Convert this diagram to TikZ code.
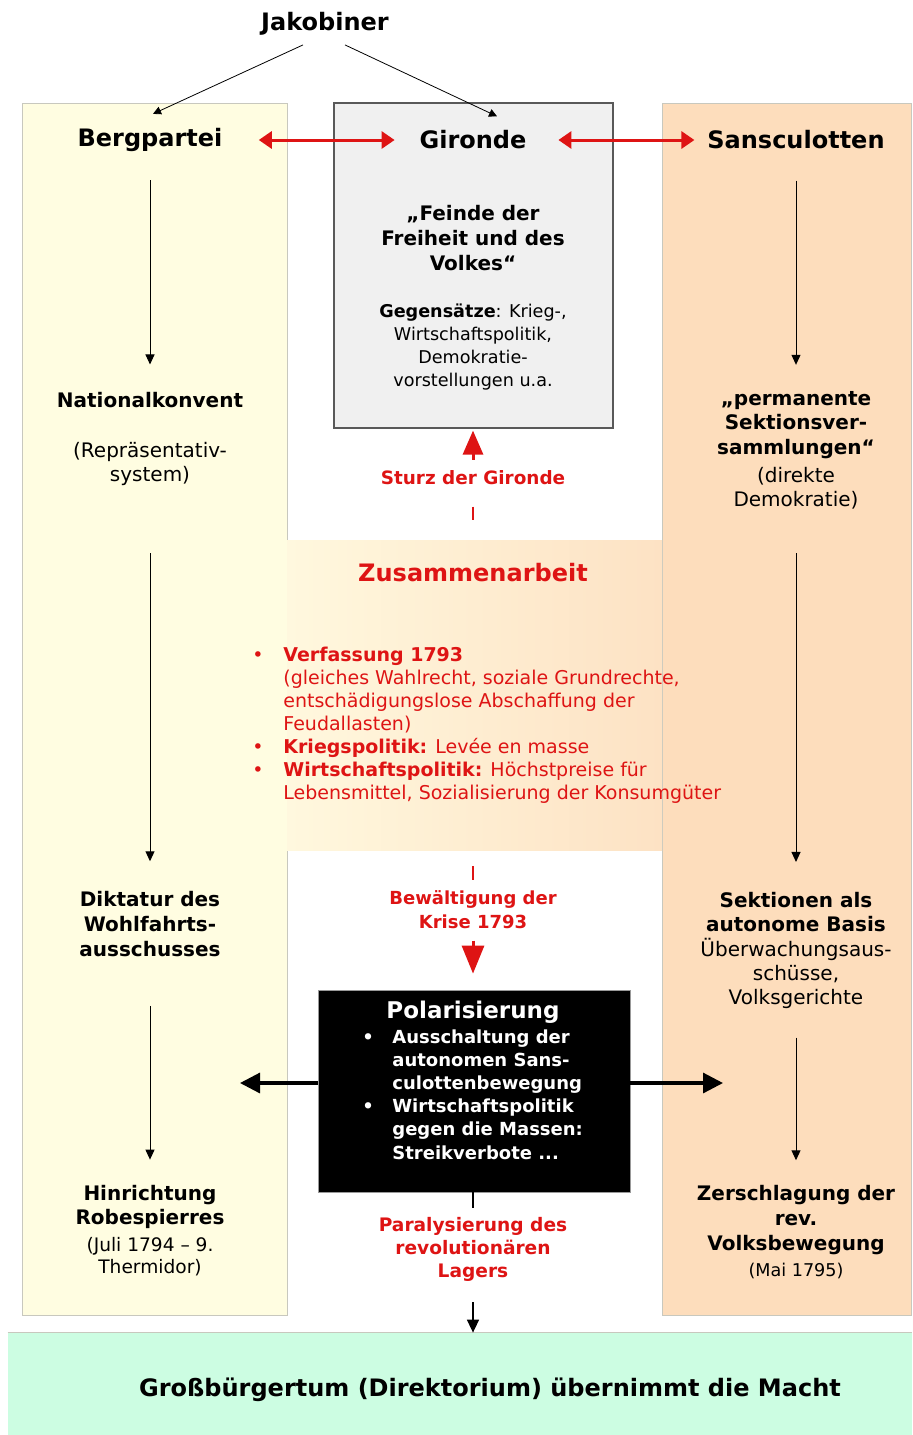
\documentclass[tikz,border=0pt]{standalone}
\usepackage{fontspec}
\setmainfont{DejaVu Sans}
\usepackage{tikz}
\usetikzlibrary{arrows.meta,positioning,calc}

\definecolor{bergfill}{RGB}{255,253,225}
\definecolor{sansfill}{RGB}{253,221,188}
\definecolor{bandleft}{RGB}{255,248,222}
\definecolor{bandright}{RGB}{253,226,196}
\definecolor{girfill}{RGB}{240,240,240}
\definecolor{machtfill}{RGB}{204,253,226}
\definecolor{revred}{RGB}{222,20,20}
\definecolor{colframe}{RGB}{200,200,190}

\begin{document}
\begin{tikzpicture}[
  x=0.5pt, y=-0.5pt,
  txt/.style={align=center, inner sep=0pt},
  partytxt/.style={txt, font=\fontsize{12}{14}\selectfont\bfseries},
  colhead/.style={txt, font=\fontsize{10}{12.3}\selectfont\bfseries},
  colbody/.style={txt, font=\fontsize{10}{12}\selectfont},
  colnote/.style={txt, font=\fontsize{9.3}{11}\selectfont},
  redlabel/.style={txt, text=revred, font=\fontsize{9.2}{11.8}\selectfont\bfseries},
  listtxt/.style={align=left, inner sep=0pt, text=revred, font=\fontsize{9.5}{11.5}\selectfont},
  polartxt/.style={align=left, inner sep=0pt, text=white, font=\fontsize{9}{11.6}\selectfont\bfseries},
  arrow/.style={-{Triangle[length=5pt,width=4.5pt]}, line width=0.5pt},
  jakarrow/.style={-{Triangle[length=4pt,width=4pt]}, line width=0.4pt},
  redarrow/.style={{Triangle[length=6.5pt,width=8.5pt]}-{Triangle[length=6.5pt,width=8.5pt]}, line width=1.5pt, revred},
  redbig/.style={-{Triangle[length=12pt,width=10pt]}, line width=1.5pt, revred},
  redtick/.style={line width=1.3pt, revred},
  blkarrow/.style={-{Triangle[length=10pt,width=10pt]}, line width=1.6pt},
  downarrow/.style={-{Triangle[length=6.5pt,width=6pt]}, line width=0.8pt}
]

% canvas
\fill[white] (0,0) rectangle (912,1435);
\useasboundingbox (0,0) rectangle (912,1435);

% columns and boxes
\draw[colframe, fill=bergfill] (22,103) rectangle (287,1315);
\draw[colframe, fill=sansfill] (662,103) rectangle (911,1315);
\node[inner sep=0pt, minimum width=187.5pt, minimum height=155pt, left color=bandleft, right color=bandright] (band) at (474.5,695) {};
\node[draw=black!65, fill=girfill, inner sep=0pt, minimum width=139.5pt, minimum height=162.5pt, line width=0.6pt] (girbox) at (473.5,265.5) {};
\node[draw=black!40, fill=black, inner sep=0pt, minimum width=156pt, minimum height=101pt] (polar) at (474,1091) {};
\node[fill=machtfill, inner sep=0pt, minimum width=452pt, minimum height=51pt] (machtbox) at (460,1384) {};
\draw[colframe, line width=0.8pt] (machtbox.north west) -- (machtbox.north east);

% parties
\node[partytxt] (jakobiner) at (325,24) {Jakobiner};
\node[partytxt] (berg) at (150,140) {Bergpartei};
\node[partytxt] (gironde) at (473,140) {Gironde};
\node[partytxt] (sans) at (796,140) {Sansculotten};

\draw[jakarrow] ($(jakobiner.south)+(-22,9)$) -- ($(berg.north)+(3,-14)$);
\draw[jakarrow] ($(jakobiner.south)+(20,9)$) -- ($(gironde.north)+(24,-14)$);
\draw[redarrow, shorten <=18pt, shorten >=12.3pt] (berg) -- (gironde);
\draw[redarrow, shorten <=15.8pt, shorten >=6.3pt] (gironde) -- (sans);

% Gironde
\node[txt, font=\fontsize{10}{12.5}\selectfont\bfseries] (feinde) at (473,238) {„Feinde der\\Freiheit und des\\Volkes“};
\node[txt, font=\fontsize{8.8}{11.5}\selectfont] (gegensatz) at (473,347) {\textbf{Gegensätze}: Krieg-,\\Wirtschaftspolitik,\\Demokratie-\\vorstellungen u.a.};

% Bergpartei column
\node[colhead] (natkonv) at (150,400) {Nationalkonvent};
\node[colbody] (natnote) at (150,464) {(Repräsentativ-\\system)};
\node[colhead] (diktatur) at (150,924) {Diktatur des\\Wohlfahrts-\\ausschusses};
\node[colhead] (hinr) at (150,1207) {Hinrichtung\\Robespierres};
\node[colnote] (hinrnote) at (150,1257) {(Juli 1794 – 9.\\Thermidor)};

\draw[arrow, shorten <=14pt, shorten >=13.7pt] (berg) -- (natkonv);
\draw[arrow, shorten <=33.5pt, shorten >=15pt] (natnote) -- (diktatur);
\draw[arrow, shorten <=24.5pt, shorten >=12.5pt] (diktatur) -- (hinr);

% Sansculotten column
\node[colhead] (perm) at (796,425) {„permanente\\Sektionsver-\\sammlungen“};
\node[colbody] (permnote) at (796,488) {(direkte\\Demokratie)};
\node[colhead] (sekt) at (796,912) {Sektionen als\\autonome Basis};
\node[colbody] (sektnote) at (796,973) {Überwachungsaus-\\schüsse,\\Volksgerichte};
\node[colhead] (zerschl) at (796,1220) {Zerschlagung der\\rev.\\Volksbewegung};
\node[colnote, font=\fontsize{8.8}{11}\selectfont] (zerschlnote) at (796,1271) {(Mai 1795)};

\draw[arrow, shorten <=15.5pt, shorten >=13pt] (sans) -- (perm);
\draw[arrow, shorten <=22pt, shorten >=14.8pt] (permnote) -- (sekt);
\draw[arrow, shorten <=14.5pt, shorten >=12.5pt] (sektnote) -- (zerschl);

% Zusammenarbeit
\node[redlabel] (sturz) at (473,478) {Sturz der Gironde};
\draw[redbig, shorten <=5.4pt, shorten >=1pt] (sturz) -- (sturz |- girbox.south);
\draw[redtick, shorten <=10.5pt, shorten >=10pt] (sturz) -- (sturz |- band.north);

\node[txt, text=revred, font=\fontsize{12}{14}\selectfont\bfseries] (zusammen) at (473,573) {Zusammenarbeit};
\node[listtxt, anchor=north west] (zlist) at (252,647) {%
\makebox[15.5pt][l]{•}\textbf{Verfassung 1793}\\
\hspace*{15.5pt}(gleiches Wahlrecht, soziale Grundrechte,\\
\hspace*{15.5pt}entschädigungslose Abschaffung der\\
\hspace*{15.5pt}Feudallasten)\\
\makebox[15.5pt][l]{•}\textbf{Kriegspolitik:} Levée en masse\\
\makebox[15.5pt][l]{•}\textbf{Wirtschaftspolitik:} Höchstpreise für\\
\hspace*{15.5pt}Lebensmittel, Sozialisierung der Konsumgüter};

\node[redlabel, font=\fontsize{9}{12}\selectfont\bfseries] (bewaelt) at (473,910) {Bewältigung der\\Krise 1793};
\draw[redtick, shorten <=8pt, shorten >=5.5pt] (bewaelt |- band.south) -- (bewaelt);
\draw[redbig, -{Triangle[length=14pt,width=11pt]}, shorten <=5.5pt, shorten >=8pt] (bewaelt) -- (bewaelt |- polar.north);

% Polarisierung
\node[txt, text=white, font=\fontsize{11.5}{13}\selectfont\bfseries] (polartitle) at (473,1012) {Polarisierung};
\node[polartxt, anchor=north west] (polarlist) at (362,1029) {%
\makebox[15pt][l]{•}Ausschaltung der\\
\hspace*{15pt}autonomen Sans-\\
\hspace*{15pt}culottenbewegung\\
\makebox[15pt][l]{•}Wirtschaftspolitik\\
\hspace*{15pt}gegen die Massen:\\
\hspace*{15pt}Streikverbote ...};

\coordinate (polL) at (240,1083);
\coordinate (polR) at (723,1083);
\draw[blkarrow] (polar.west |- polL) -- (polL);
\draw[blkarrow] (polar.east |- polR) -- (polR);

\node[redlabel, font=\fontsize{9.3}{11.5}\selectfont\bfseries] (paral) at (473,1249) {Paralysierung des\\revolutionären\\Lagers};
\draw[line width=1.3pt, shorten >=4.5pt] (paral |- polar.south) -- (paral);
\draw[downarrow, shorten <=10.5pt] (paral) -- (paral |- machtbox.north);

\node[partytxt] (macht) at (490,1390) {Großbürgertum (Direktorium) übernimmt die Macht};

\end{tikzpicture}
\end{document}
